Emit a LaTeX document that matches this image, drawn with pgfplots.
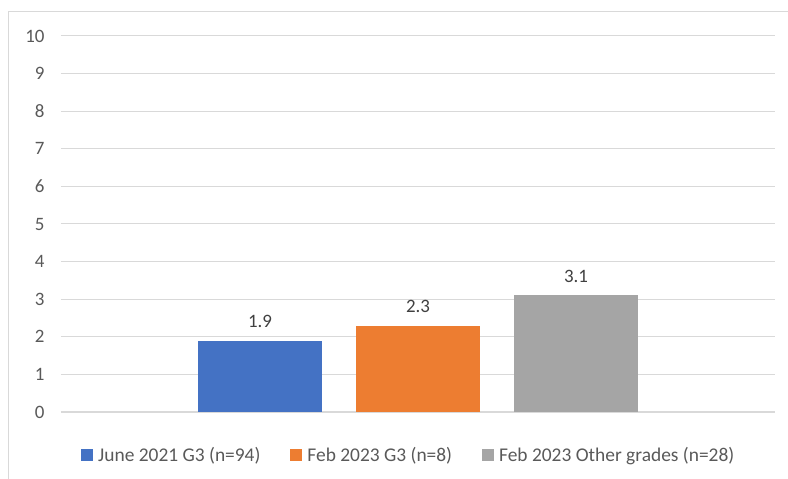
\documentclass[border=0pt]{standalone}
\usepackage{pgfplots}
\pgfplotsset{compat=1.18}
\usepackage{fontspec}
\setmainfont{Carlito}
\definecolor{sblue}{HTML}{4472C4}
\definecolor{sorange}{HTML}{ED7D31}
\definecolor{sgray}{HTML}{A5A5A5}
\definecolor{gridc}{HTML}{D9D9D9}
\definecolor{txt}{HTML}{595959}
\definecolor{lbl}{HTML}{404040}
\begin{document}
\begin{tikzpicture}[x=1bp,y=1bp]
\useasboundingbox (-61,-67) rectangle (727,412);
\draw[gridc, line width=1bp] (-52,-67) -- (-52,400) -- (727,400);
\begin{axis}[
  at={(0,0)}, anchor=south west,
  scale only axis, width=714bp, height=376bp,
  xmin=-0.2595, xmax=4.2595, ymin=0, ymax=10,
  ytick={0,1,...,10},
  xtick=\empty,
  axis x line*=bottom, axis y line*=left,
  x axis line style={gridc, line width=1.2bp},
  y axis line style={draw=none},
  ymajorgrids, grid style={gridc, line width=1bp},
  major tick length=0pt,
  yticklabel style={font=\fontsize{19}{22}\selectfont, text=txt, xshift=-13bp},
  /pgf/number format/assume math mode=true,
  ybar, bar width=0.785, bar shift=0pt,
  nodes near coords={\pgfmathprintnumber[fixed,precision=1,fixed zerofill]{\pgfplotspointmeta}},
  nodes near coords style={font=\fontsize{19}{22}\selectfont, text=lbl, yshift=9bp},
  legend columns=3,
  legend style={at={(0.487,-0.114)}, anchor=center, draw=none, fill=none,
    font=\fontsize{19.5}{22}\selectfont, text=txt,
    /tikz/every odd column/.append style={column sep=3bp},
    /tikz/every even column/.append style={column sep=28bp}},
  legend image code/.code={\fill[#1] (0bp,-6bp) rectangle (12bp,6bp);},
]
\addplot[fill=sblue, draw=none] coordinates {(1,1.9)};
\addlegendentry{June 2021 G3 (n=94)}
\addplot[fill=sorange, draw=none] coordinates {(2,2.3)};
\addlegendentry{Feb 2023 G3 (n=8)}
\addplot[fill=sgray, draw=none] coordinates {(3,3.1)};
\addlegendentry{Feb 2023 Other grades (n=28)}
\end{axis}
\end{tikzpicture}
\end{document}
